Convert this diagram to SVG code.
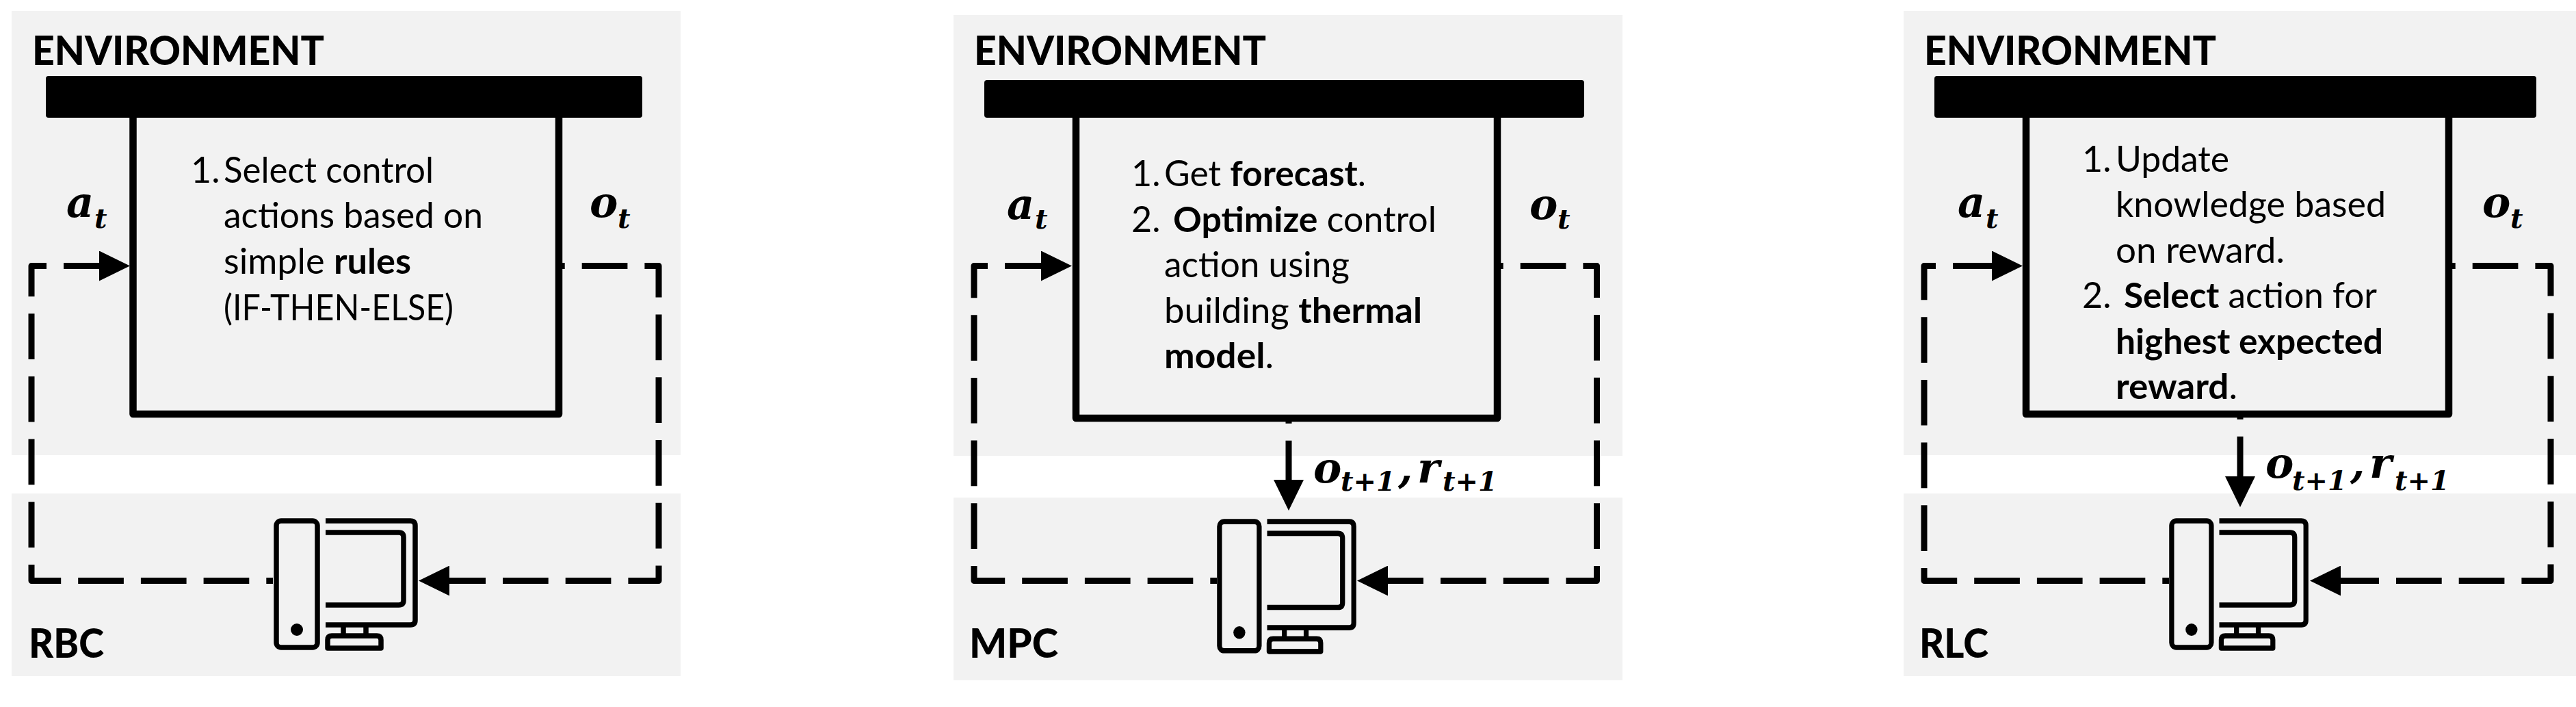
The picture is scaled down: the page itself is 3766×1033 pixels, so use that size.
<svg xmlns="http://www.w3.org/2000/svg" width="3766" height="1033" viewBox="0 0 3766 1033">
<style>
text{fill:#000;font-family:Lato,"Noto Sans",sans-serif}
.panel{fill:#f2f2f2}
.box{fill:none;stroke:#000;stroke-width:10.5;stroke-linejoin:round}
.head{font-size:59px;font-weight:900}
.body{font-size:52px}
.b{font-weight:700}
.m{font-family:"DejaVu Serif",serif;font-weight:700;font-style:italic;font-size:62px}
.s{font-family:"DejaVu Serif",serif;font-weight:700;font-style:italic;font-size:40px}
.dash{fill:none;stroke:#000;stroke-width:9;stroke-dasharray:66.7 25;stroke-linejoin:round}
.ic{fill:none;stroke:#000;stroke-width:7.5;stroke-linejoin:round}
</style>
<defs>
<marker id="arrow" markerUnits="userSpaceOnUse" markerWidth="45" markerHeight="44" refX="15" refY="22" orient="auto" viewBox="0 0 45 44"><polygon points="0,0 45,22 0,44" fill="#000"/></marker>
<g id="computer">
<rect class="ic" x="4" y="4" width="60" height="185" rx="7"/>
<circle cx="34" cy="163" r="9" fill="#000"/>
<path class="ic" d="M76 4H200Q207 4 207 11V149Q207 156 200 156H76"/>
<path class="ic" d="M76 21H183Q190 21 190 28V120Q190 127 183 127H76"/>
<path class="ic" d="M102 156V172M135 156V172"/>
<path class="ic" d="M79 190V178Q79 172 85 172H151Q157 172 157 178V190Z"/>
</g>
</defs>

<g id="rbc-environment">
<rect class="panel" x="17" y="16" width="978" height="649"/>
<text class="head" x="47" y="95" textLength="427" lengthAdjust="spacingAndGlyphs">ENVIRONMENT</text>
<rect x="67" y="111" width="872" height="61" rx="4"/>
</g>
<g id="rbc-controller-panel">
<rect class="panel" x="17" y="721" width="978" height="267"/>
<text class="head" x="42" y="961" textLength="110" lengthAdjust="spacingAndGlyphs">RBC</text>
</g>
<g id="mpc-environment">
<rect class="panel" x="1394" y="22" width="978" height="644"/>
<text class="head" x="1424" y="95" textLength="427" lengthAdjust="spacingAndGlyphs">ENVIRONMENT</text>
<rect x="1439" y="117" width="877" height="55" rx="4"/>
</g>
<g id="mpc-controller-panel">
<rect class="panel" x="1394" y="727" width="978" height="267"/>
<text class="head" x="1417" y="961" textLength="130" lengthAdjust="spacingAndGlyphs">MPC</text>
</g>
<g id="rlc-environment">
<rect class="panel" x="2783" y="16" width="983" height="649"/>
<text class="head" x="2813" y="95" textLength="427" lengthAdjust="spacingAndGlyphs">ENVIRONMENT</text>
<rect x="2828" y="111" width="880" height="61" rx="4"/>
</g>
<g id="rlc-controller-panel">
<rect class="panel" x="2783" y="721" width="983" height="267"/>
<text class="head" x="2806" y="961" textLength="101" lengthAdjust="spacingAndGlyphs">RLC</text>
</g>

<g id="connectors">
<path class="dash" marker-end="url(#arrow)" stroke-dashoffset="57" d="M399 848.5H46V388.5H160"/>
<path class="dash" marker-end="url(#arrow)" stroke-dashoffset="58" d="M817 388.5H963V848.5H642"/>
<path class="dash" marker-end="url(#arrow)" stroke-dashoffset="57" d="M1779 848.5H1424V388.5H1537"/>
<path class="dash" marker-end="url(#arrow)" stroke-dashoffset="58" d="M2189 388.5H2334.5V848.5H2014"/>
<path class="dash" marker-end="url(#arrow)" stroke-dashoffset="59" d="M1884 611V716"/>
<path class="dash" marker-end="url(#arrow)" stroke-dashoffset="57" d="M3171 848.5H2813V388.5H2927"/>
<path class="dash" marker-end="url(#arrow)" stroke-dashoffset="57" d="M3580 388.5H3729V848.5H3407"/>
<path class="dash" marker-end="url(#arrow)" stroke-dashoffset="59" d="M3275 605V711"/>
</g>

<g id="rbc-agent">
<path class="box" d="M194.500 172V605H817V172"/>
<text class="body" x="279" y="267">1.</text><text class="body" x="327" y="267" textLength="307" lengthAdjust="spacingAndGlyphs">Select control</text>
<text class="body" x="327" y="333" textLength="379" lengthAdjust="spacingAndGlyphs">actions based on</text>
<text class="body" x="327" y="400" textLength="274" lengthAdjust="spacingAndGlyphs">simple <tspan class="b">rules</tspan></text>
<text class="body" x="327" y="468" textLength="336" lengthAdjust="spacingAndGlyphs">(IF-THEN-ELSE)</text>
</g>
<g id="rbc-labels">
<text class="m" x="97" y="317">a</text><text class="s" x="138" y="333">t</text>
<text class="m" x="862" y="317">o</text><text class="s" x="903" y="333">t</text>
</g>
<g id="rbc-computer"><use href="#computer" x="400" y="757"/></g>

<g id="mpc-agent">
<path class="box" d="M1573 172V611H2189V172"/>
<text class="body" x="1654" y="272">1.</text><text class="body" x="1702" y="272" textLength="295" lengthAdjust="spacingAndGlyphs">Get <tspan class="b">forecast</tspan>.</text>
<text class="body" x="1654" y="339">2.</text><text class="body" x="1715" y="339" textLength="385" lengthAdjust="spacingAndGlyphs"><tspan class="b">Optimize</tspan> control</text>
<text class="body" x="1702" y="405" textLength="271" lengthAdjust="spacingAndGlyphs">action using</text>
<text class="body" x="1702" y="472" textLength="377" lengthAdjust="spacingAndGlyphs">building <tspan class="b">thermal</tspan></text>
<text class="body" x="1702" y="538" textLength="160" lengthAdjust="spacingAndGlyphs"><tspan class="b">model</tspan>.</text>
</g>
<g id="mpc-labels">
<text class="m" x="1472" y="320">a</text><text class="s" x="1513" y="334">t</text>
<text class="m" x="2236" y="320">o</text><text class="s" x="2277" y="334">t</text>
<text class="m" x="1920" y="705">o</text><text class="s" x="1960" y="717">t+1</text>
<text class="m" x="2044" y="705">,</text>
<text class="m" x="2072" y="705">r</text><text class="s" x="2109" y="717">t+1</text>
</g>
<g id="mpc-computer"><use href="#computer" transform="translate(1779 758) scale(.967 1.02)"/></g>

<g id="rlc-agent">
<path class="box" d="M2962 172V605H3580V172"/>
<text class="body" x="3044" y="251">1.</text><text class="body" x="3093" y="251" textLength="166" lengthAdjust="spacingAndGlyphs">Update</text>
<text class="body" x="3093" y="317" textLength="395" lengthAdjust="spacingAndGlyphs">knowledge based</text>
<text class="body" x="3093" y="384" textLength="247" lengthAdjust="spacingAndGlyphs">on reward.</text>
<text class="body" x="3044" y="450">2.</text><text class="body" x="3105" y="450" textLength="370" lengthAdjust="spacingAndGlyphs"><tspan class="b">Select</tspan> action for</text>
<text class="body b" x="3093" y="517" textLength="391" lengthAdjust="spacingAndGlyphs">highest expected</text>
<text class="body" x="3093" y="583" textLength="178" lengthAdjust="spacingAndGlyphs"><tspan class="b">reward</tspan>.</text>
</g>
<g id="rlc-labels">
<text class="m" x="2862" y="317">a</text><text class="s" x="2903" y="333">t</text>
<text class="m" x="3629" y="317">o</text><text class="s" x="3670" y="333">t</text>
<text class="m" x="3312" y="698">o</text><text class="s" x="3351" y="716">t+1</text>
<text class="m" x="3436" y="698">,</text>
<text class="m" x="3464" y="698">r</text><text class="s" x="3501" y="716">t+1</text>
</g>
<g id="rlc-computer"><use href="#computer" transform="translate(3171 757) scale(.967 1)"/></g>
</svg>
